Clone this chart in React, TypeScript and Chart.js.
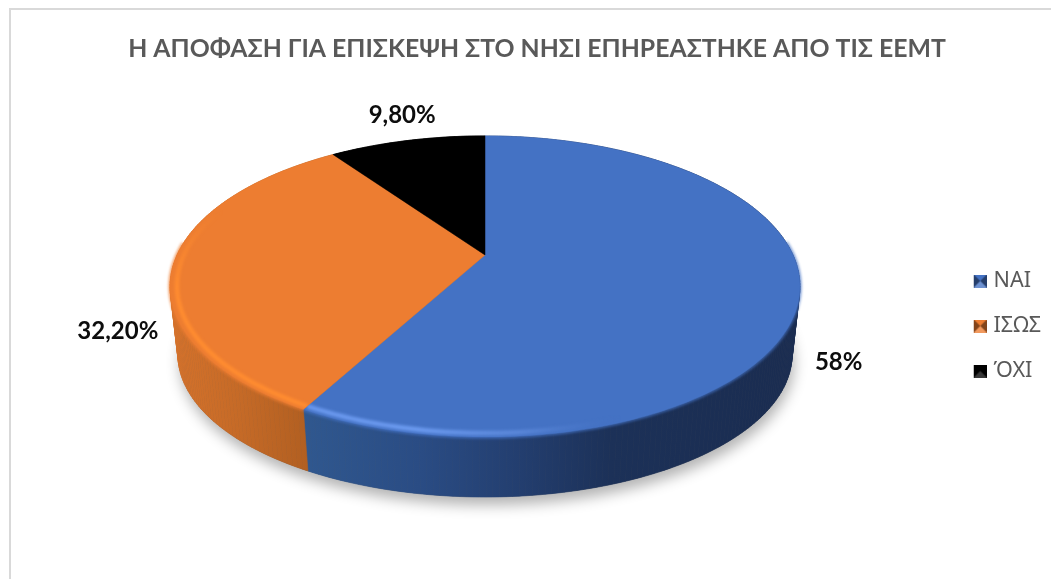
import React, { useEffect, useRef } from "react";
import { Chart, registerables } from "chart.js";

Chart.register(...registerables);

const TITLE = "Η ΑΠΟΦΑΣΗ ΓΙΑ ΕΠΙΣΚΕΨΗ ΣΤΟ ΝΗΣΙ ΕΠΗΡΕΑΣΤΗΚΕ ΑΠΟ ΤΙΣ ΕΕΜΤ";
const categories = ["ΝΑΙ", "ΙΣΩΣ", "ΌΧΙ"];
const values = [58, 32.2, 9.8];
const valueLabels = ["58%", "32,20%", "9,80%"];
const colors = ["#4472C4", "#ED7D31", "#000000"];

const FONT = "Lato, 'Open Sans', sans-serif";

// projection of the tilted disc
const CX = 485, CY = 255, BX = 308, AY = 144, K = 0.209, DEPTH = 70, SX = 0.975, SY = 0.945;
const LABEL_OFFSET = [[39, 69], [-56, 68], [-5, -25]];

function top(a: number): [number, number] {
  const u = Math.cos(a), v = Math.sin(a), w = 1 - K * v;
  return [CX + (BX * u) / w, CY + (AY * v) / w];
}
function bottom(a: number): [number, number] {
  const [x, y] = top(a);
  return [CX + (x - CX) * SX, CY + DEPTH + (y - CY) * SY];
}
function samples(s: number, e: number): number[] {
  const n = Math.max(2, Math.ceil(((e - s) * 180) / Math.PI));
  const out: number[] = [];
  for (let i = 0; i <= n; i++) out.push(s + ((e - s) * i) / n);
  return out;
}
function grad(ctx: CanvasRenderingContext2D, stops: [number, string][]) {
  const g = ctx.createLinearGradient(170, 0, 800, 0);
  stops.forEach(([x, c]) => g.addColorStop((x - 170) / 630, c));
  return g;
}

const sideStops: [number, string][][] = [
  [[300, "#30588F"], [420, "#2A4C84"], [520, "#233E6F"], [610, "#1C3158"], [800, "#1A2C50"]],
  [[170, "#D5722B"], [240, "#C56A27"], [320, "#AE5D20"]],
  [[170, "#000000"], [800, "#000000"]],
];
const rimStops: [number, string][][] = [
  [[300, "#6A98EE"], [420, "#6C9BF0"], [520, "rgba(100,144,226,0.7)"], [620, "rgba(68,114,196,0)"]],
  [[170, "#FF8C30"], [240, "#FF8F36"], [320, "#FD9A4A"]],
];

const pie3d = {
  id: "pie3d",
  afterLayout(chart: any) {
    chart.legend.top = 72;
    chart.legend.bottom = 580;
  },
  beforeDraw(chart: any) {
    const { ctx } = chart;
    ctx.save();
    ctx.fillStyle = "#ffffff";
    ctx.fillRect(0, 0, chart.width, chart.height);
    ctx.strokeStyle = "#D9D9D9";
    ctx.lineWidth = 2;
    ctx.beginPath();
    ctx.moveTo(10, chart.height);
    ctx.lineTo(10, 9);
    ctx.lineTo(chart.width, 9);
    ctx.stroke();
    ctx.restore();
  },
  beforeDatasetDraw() {
    return false;
  },
  afterDatasetsDraw(chart: any) {
    const { ctx } = chart;
    const arcs = chart.getDatasetMeta(0).data;
    ctx.save();

    // soft ground shadow
    ctx.save();
    ctx.shadowColor = "rgba(0,0,0,0.3)";
    ctx.shadowBlur = 14;
    ctx.shadowOffsetY = 8;
    ctx.shadowOffsetX = 2;
    ctx.fillStyle = "#555";
    ctx.beginPath();
    samples(0, Math.PI * 2).forEach((a, i) => {
      const [x, y] = bottom(a);
      i ? ctx.lineTo(x, y) : ctx.moveTo(x, y);
    });
    ctx.closePath();
    ctx.fill();
    ctx.restore();

    // walls, one strip per sampled step so the strips never cancel out
    arcs.forEach((arc: any, i: number) => {
      const ss = samples(arc.startAngle, arc.endAngle);
      const g = grad(ctx, sideStops[i]);
      ctx.fillStyle = g;
      ctx.strokeStyle = g;
      ctx.lineWidth = 0.6;
      for (let j = 0; j + 1 < ss.length; j++) {
        const [x0, y0] = top(ss[j]);
        const [x1, y1] = top(ss[j + 1]);
        const [x2, y2] = bottom(ss[j + 1]);
        const [x3, y3] = bottom(ss[j]);
        ctx.beginPath();
        ctx.moveTo(x0, y0);
        ctx.lineTo(x1, y1);
        ctx.lineTo(x2, y2);
        ctx.lineTo(x3, y3);
        ctx.closePath();
        ctx.fill();
        ctx.stroke();
      }
    });

    // soft edge of the face over the wall
    ctx.save();
    ctx.filter = "blur(1.5px)";
    ctx.lineWidth = 2.5;
    arcs.slice(0, 2).forEach((arc: any, i: number) => {
      ctx.strokeStyle = colors[i];
      ctx.beginPath();
      samples(arc.startAngle, arc.endAngle)
        .filter((a) => Math.sin(a) > -0.1)
        .forEach((a, j) => {
          const [x, y] = top(a);
          j ? ctx.lineTo(x, y) : ctx.moveTo(x, y);
        });
      ctx.stroke();
    });
    ctx.restore();

    // top face
    arcs.forEach((arc: any, i: number) => {
      ctx.fillStyle = colors[i];
      ctx.strokeStyle = colors[i];
      ctx.lineWidth = 0.5;
      ctx.beginPath();
      ctx.moveTo(CX, CY);
      samples(arc.startAngle, arc.endAngle).forEach((a) => {
        const [x, y] = top(a);
        ctx.lineTo(x, y);
      });
      ctx.closePath();
      ctx.fill();
      ctx.stroke();
    });

    // bevelled rim, just inside the edge of the face
    ctx.save();
    ctx.filter = "blur(1.8px)";
    ctx.lineWidth = 4.5;
    const inset = 0.978;
    arcs.slice(0, 2).forEach((arc: any, i: number) => {
      ctx.save();
      ctx.beginPath();
      ctx.moveTo(CX, CY);
      samples(arc.startAngle, arc.endAngle).forEach((a) => {
        const [x, y] = top(a);
        ctx.lineTo(x, y);
      });
      ctx.closePath();
      ctx.clip();
      const ss = samples(arc.startAngle, arc.endAngle).filter((a) => Math.sin(a) > (i === 1 ? -0.35 : 0.3));
      if (i === 1) {
        const g = ctx.createLinearGradient(0, 210, 0, 285);
        g.addColorStop(0, "rgba(255,140,48,0)");
        g.addColorStop(1, "rgba(255,140,48,1)");
        ctx.strokeStyle = g;
      } else {
        ctx.strokeStyle = grad(ctx, rimStops[i]);
      }
      ctx.beginPath();
      ss.forEach((a, j) => {
        const [x, y] = top(a);
        const px = CX + (x - CX) * inset, py = CY + (y - CY) * inset;
        j ? ctx.lineTo(px, py) : ctx.moveTo(px, py);
      });
      ctx.stroke();
      ctx.restore();
    });
    ctx.restore();

    // value labels
    ctx.fillStyle = "#0D0D0D";
    ctx.font = `bold 24px ${FONT}`;
    ctx.textAlign = "center";
    ctx.textBaseline = "middle";
    arcs.forEach((arc: any, i: number) => {
      const [x, y] = top((arc.startAngle + arc.endAngle) / 2);
      ctx.fillText(valueLabels[i], x + LABEL_OFFSET[i][0], y + LABEL_OFFSET[i][1]);
    });
    ctx.restore();
  },
};

function marker(color: string): HTMLCanvasElement {
  // wider than the swatch: the swatch sits at the right, close to its text
  const c = document.createElement("canvas");
  c.width = 21;
  c.height = 13;
  const g = c.getContext("2d")!;
  g.translate(8, 0);
  g.fillStyle = color;
  g.fillRect(0, 0, 13, 13);
  const tri = (pts: number[], fill: string) => {
    g.fillStyle = fill;
    g.beginPath();
    g.moveTo(pts[0], pts[1]);
    g.lineTo(pts[2], pts[3]);
    g.lineTo(6.5, 6.5);
    g.closePath();
    g.fill();
  };
  tri([0, 0, 0, 13], "rgba(0,0,0,0.45)");
  tri([13, 0, 13, 13], "rgba(0,0,0,0.45)");
  tri([0, 13, 13, 13], "rgba(255,255,255,0.22)");
  return c;
}

export default function App() {
  const ref = useRef<HTMLCanvasElement>(null);
  useEffect(() => {
    document.body.style.margin = "0";
    const markers = colors.map(marker);
    const chart = new Chart(ref.current!, {
      type: "pie",
      data: {
        labels: categories,
        datasets: [{ data: values, backgroundColor: colors, borderWidth: 0 }],
      },
      plugins: [pie3d],
      options: {
        responsive: false,
        animation: false,
        devicePixelRatio: 1,
        layout: { padding: { left: 23, top: 34, bottom: 0, right: 0 } },
        plugins: {
          tooltip: { enabled: false },
          title: {
            display: true,
            text: TITLE,
            color: "#595959",
            font: { family: FONT, size: 24.8, weight: "bold" },
            padding: { top: 0, bottom: 10 },
          },
          legend: {
            position: "right",
            labels: {
              usePointStyle: true,
              boxWidth: 13,
              boxHeight: 13,
              color: "#595959",
              font: { family: "'Noto Sans', sans-serif", size: 21.6 },
              padding: 23.4,
              generateLabels: () =>
                categories.map((text, i) => ({
                  text,
                  pointStyle: markers[i],
                  fillStyle: colors[i],
                  strokeStyle: colors[i],
                  lineWidth: 0,
                  hidden: false,
                  index: i,
                  fontColor: "#595959",
                })),
            },
          },
        },
      } as any,
    });
    return () => chart.destroy();
  }, []);
  return <canvas ref={ref} width={1051} height={579} style={{ display: "block" }} />;
}
